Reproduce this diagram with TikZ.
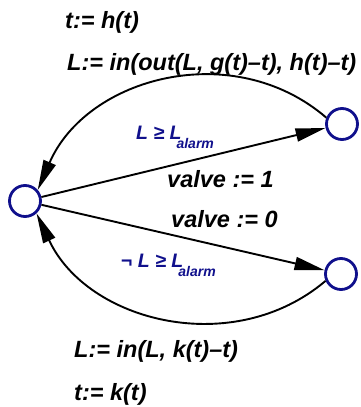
\documentclass[tikz,border=0pt]{standalone}
\usepackage{fontspec}
\setmainfont{Liberation Sans}
\usetikzlibrary{arrows.meta}
\definecolor{mblue}{RGB}{16,16,140}
\begin{document}
\begin{tikzpicture}[x=1pt,y=-1pt,
  state/.style={circle,draw=mblue,line width=2.8pt,minimum size=31pt,inner sep=0pt},
  conn/.style={draw=black,line width=1.9pt,-{Triangle[length=30pt,width=13pt]}},
  lbl/.style={anchor=base west,inner sep=0pt,font=\fontsize{23.5}{28}\selectfont\bfseries\itshape},
  guard/.style={anchor=base west,inner sep=0pt,text=mblue,font=\fontsize{19.5}{22}\selectfont\bfseries\itshape}]
\useasboundingbox (0,0) rectangle (361,407);
\node[state] (L) at (25,201) {};
\node[state] (TR) at (342,124) {};
\node[state] (BR) at (341,274) {};
\draw[conn] (L) -- (TR);
\draw[conn] (L) -- (BR);
\draw[conn] (TR.158) .. controls +(-93,-80) and +(49,-113) .. (L.41);
\draw[conn] (BR.204) .. controls +(-92,78) and +(51,109) .. (L.313);
\node[lbl] (t1) at (65,28) {t:= h(t)};
\node[lbl] (l1) at (67,70) {L:= in(out(L, g(t)–t), h(t)–t)};
\node[lbl] (v1) at (167,187) {valve := 1};
\node[lbl] (v0) at (171,227) {valve := 0};
\node[lbl] (l2) at (74,357) {L:= in(L, k(t)–t)};
\node[lbl] (t2) at (74,400) {t:= k(t)};
\node[guard] (g1) at (136,139) {L ≥ L\kern-5pt\raisebox{-9pt}{\fontsize{14}{14}\selectfont alarm}};
\node[guard] (g2) at (121,267) {¬ L ≥ L\kern-5pt\raisebox{-9pt}{\fontsize{14}{14}\selectfont alarm}};
\end{tikzpicture}
\end{document}
